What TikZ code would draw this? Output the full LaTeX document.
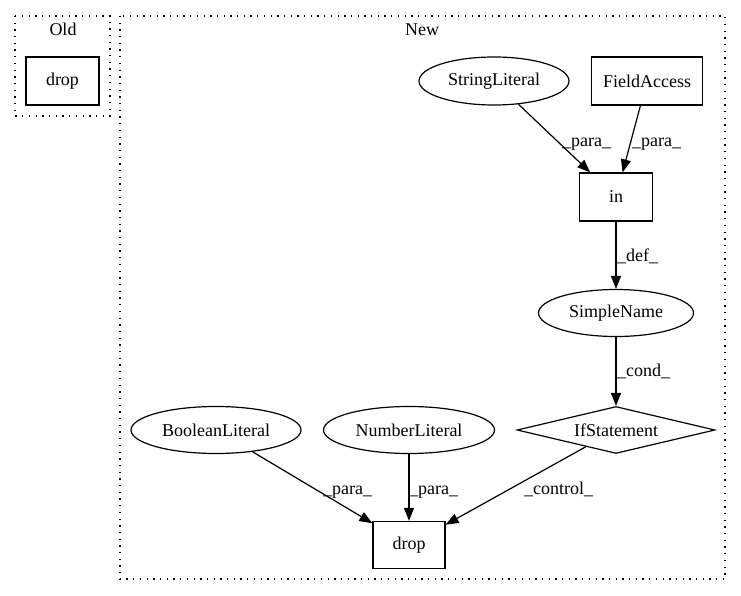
\documentclass[tikz,border=0pt]{standalone}
\usepackage{fontspec}
\setmainfont{Liberation Serif}
\usetikzlibrary{shapes.geometric,arrows.meta}

\begin{document}
\begin{tikzpicture}[x=1pt,y=-1pt,
  box/.style={draw, rectangle, line width=1.2pt, inner sep=0pt, minimum width=73pt, minimum height=48pt},
  oval/.style={draw, ellipse, line width=1.2pt, inner sep=0pt, minimum height=48pt},
  edge/.style={-{Triangle[length=13pt,width=10pt]}, line width=1.2pt},
  elabel/.style={anchor=base west, inner sep=0pt},
  cluster/.style={line width=1.3pt, dash pattern=on 1.3pt off 5.4pt}]\fontsize{18pt}{21pt}\selectfont
 \useasboundingbox (0,0) rectangle (741,596);
 \pgfmathsetmacro{\xmid}{616} % x of the chain in -> SimpleName -> IfStatement
 \pgfmathsetmacro{\yrow}{430} % y of the lower row

% the two clusters
\begin{scope}[cluster]
  \draw (15,16) rectangle (110,116);
  \draw (120,16) rectangle (725,579);
  \node[anchor=base, inner sep=0pt] (oldTitle) at (63,36) {Old};
  \node[anchor=base, inner sep=0pt] (newTitle) at (422,36) {New};
\end{scope}

% old version
\node[box] (oldDrop) at (62.5,81) {drop};

% new version, upper part
\node[oval, minimum width=150pt] (strLit) at (494,81) {StringLiteral};
\node[box, minimum width=111pt] (fieldAcc) at (647,81) {FieldAccess};
\node[box] (inOp) at (\xmid,197) {in};
\node[oval, minimum width=155pt, minimum height=47pt] (simpleName) at (\xmid,313) {SimpleName};

% new version, lower row
\node[draw, diamond, aspect=4.2, line width=1.2pt, inner sep=0pt, minimum width=198pt, minimum height=47pt] (ifStmt) at (\xmid,\yrow) {IfStatement};
\node[oval, minimum width=170pt, minimum height=47pt] (boolLit) at (216,\yrow) {BooleanLiteral};
\node[oval, minimum width=171pt, minimum height=47pt] (numLit) at (409,\yrow) {NumberLiteral};
\node[box, minimum width=72pt, minimum height=47pt] (newDrop) at (409,545) {drop};

% edges
\begin{scope}[edge]
  \draw (strLit) -- (inOp);
  \draw (fieldAcc) -- (inOp);
  \draw (inOp) -- (simpleName);
  \draw (simpleName) -- (ifStmt);
  \draw (boolLit) -- (newDrop);
  \draw (numLit) -- (newDrop);
  \draw (ifStmt) -- (newDrop);
\end{scope}

% edge labels
\node[elabel] (lblParaA) at (562,147) {\_para\_};
\node[elabel] (lblParaB) at (632,147) {\_para\_};
\node[elabel] (lblDef) at (617,261) {\_def\_};
\node[elabel] (lblCond) at (617,376) {\_cond\_};
\node[elabel] (lblParaC) at (323,494) {\_para\_};
\node[elabel] (lblParaD) at (409,494) {\_para\_};
\node[elabel] (lblControl) at (524,494) {\_control\_};

\end{tikzpicture}
\end{document}
